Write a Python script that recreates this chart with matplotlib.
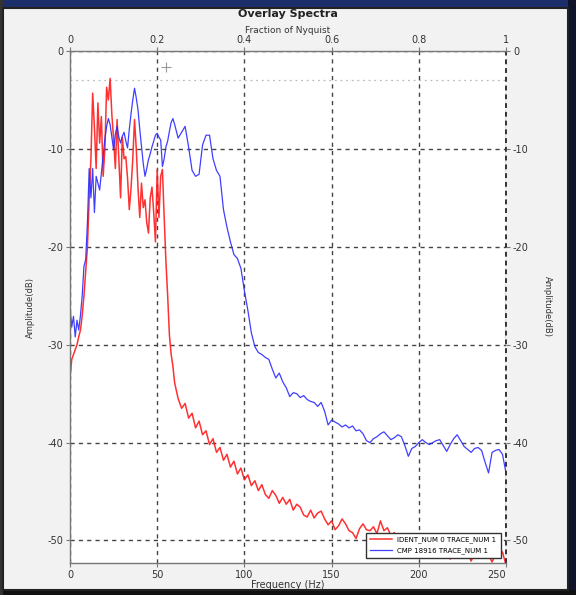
import numpy as np
import matplotlib
matplotlib.use("Agg")
import matplotlib.pyplot as plt
from matplotlib.patches import Rectangle

# frequency grid: 1 Hz steps up to 60 Hz, then 2 Hz steps to Nyquist
freq = np.concatenate([np.arange(0, 61, 1), np.arange(62, 251, 2)])
nyquist = 250

ident_db = [
    -33.4, -31.5, -31.0, -30.5, -30.0, -29.2, -28.5, -27.0, -25.0, -22.5,
    -20.0, -15.0, -11.0, -4.3, -7.8, -12.0, -5.3, -9.4, -6.7, -12.8,
    -10.0, -3.7, -5.0, -2.8, -6.5, -9.0, -12.0, -7.0, -11.0, -15.0,
    -8.8, -11.0, -10.8, -13.0, -16.2, -14.0, -11.0, -7.0, -10.0, -14.0,
    -17.0, -13.5, -16.0, -15.2, -17.5, -18.6, -15.0, -13.9, -16.5, -19.5,
    -12.1, -17.0, -12.8, -12.1, -17.0, -21.5, -25.0, -29.0, -31.0, -32.2,
    -33.9,
    # 62 .. 250 Hz
    -35.5, -36.5, -36.0, -37.5, -37.0, -38.5, -37.8, -39.2, -38.8, -40.2,
    -39.6, -41.0, -40.5, -41.8, -41.2, -42.5, -41.9, -43.2, -42.6, -43.8,
    -43.3, -44.4, -43.9, -44.9, -44.3, -45.3, -45.7, -44.9, -45.4, -46.2,
    -45.6, -46.3, -45.8, -46.9, -46.3, -46.6, -47.4, -47.6, -46.9, -47.7,
    -47.2, -47.0, -47.8, -48.4, -48.0, -48.9, -48.5, -47.8, -48.3, -49.0,
    -49.2, -49.8, -48.8, -48.3, -48.9, -49.0, -48.6, -49.3, -48.0, -49.0,
    -48.7, -49.5, -49.2, -50.0, -49.6, -50.2, -49.8, -50.6, -50.1, -50.4,
    -50.9, -50.3, -51.0, -50.6, -51.2, -50.7, -51.3, -51.0, -51.9, -51.1,
    -51.4, -50.9, -51.5, -51.2, -52.1, -51.3, -51.0, -51.6, -51.2, -51.5,
    -52.2, -51.4, -50.8, -51.2, -52.5,
]

cmp_db = [
    -26.2, -28.2, -27.1, -29.2, -27.5, -28.5, -27.0, -25.0, -22.0, -21.3,
    -17.5, -12.0, -15.0, -12.0, -16.5, -12.8, -13.5, -14.2, -12.5, -10.8,
    -9.0, -7.7, -6.9, -7.5, -8.8, -10.1, -8.5, -7.7, -8.8, -9.4,
    -8.7, -8.3, -9.2, -9.9, -8.0, -6.4, -5.0, -3.8, -4.8, -6.0,
    -8.0, -9.8, -11.5, -12.8, -12.0, -11.1, -10.5, -9.8, -9.2, -8.6,
    -8.4, -8.8, -9.1, -11.8, -11.0, -9.8, -9.2, -8.2, -7.3, -6.9,
    -7.5,
    # 62 .. 250 Hz
    -8.9, -8.3, -7.7, -9.8, -12.2, -12.8, -12.6, -9.6, -8.6, -8.6,
    -11.0, -12.2, -12.8, -16.2, -18.0, -19.5, -20.8, -21.2, -22.2, -24.5,
    -26.5, -28.8, -30.2, -30.8, -31.0, -31.3, -31.5, -32.5, -33.4, -32.9,
    -33.8, -34.4, -35.3, -34.9, -35.0, -35.4, -35.2, -35.6, -35.8, -35.9,
    -36.3, -35.9, -36.8, -38.2, -37.7, -37.9, -38.1, -38.4, -38.2, -38.5,
    -38.3, -38.8, -38.7, -39.1, -39.8, -40.0, -39.6, -39.4, -39.1, -38.9,
    -39.3, -39.7, -39.5, -39.2, -39.4, -40.3, -41.4, -40.6, -40.4, -40.0,
    -39.7, -40.0, -40.2, -40.0, -39.8, -39.7, -40.3, -40.9, -40.2, -39.6,
    -39.2, -39.8, -40.4, -40.7, -41.0, -40.6, -40.5, -40.8, -42.0, -43.1,
    -41.0, -40.8, -40.7, -41.2, -43.1,
]

labels = ["IDENT_NUM 0 TRACE_NUM 1", "CMP 18916 TRACE_NUM 1"]
db_ticks = [0, -10, -20, -30, -40, -50]
hz_ticks = [0, 50, 100, 150, 200, 250]
nyq_ticks = [0, 0.2, 0.4, 0.6, 0.8, 1]
nyq_labels = ["0", "0.2", "0.4", "0.6", "0.8", "1"]

W, H = 576, 595
fig = plt.figure(figsize=(W / 100, H / 100), dpi=100)
fig.patch.set_facecolor("#f2f2f2")

# window chrome around the panel
fig.patches.append(Rectangle((0, 1 - 8 / H), 1, 8 / H, transform=fig.transFigure,
                             facecolor="#1d2f6b", edgecolor="none", zorder=0))
fig.patches.append(Rectangle((568 / W, 0), 8 / W, 1, transform=fig.transFigure,
                             facecolor="#10142a", edgecolor="none", zorder=0))
fig.patches.append(Rectangle((0, 0), 1, 5 / H, transform=fig.transFigure,
                             facecolor="#111111", edgecolor="none", zorder=0))
fig.patches.append(Rectangle((0, 0), 3 / W, 1, transform=fig.transFigure,
                             facecolor="#333333", edgecolor="none", zorder=0))
fig.patches.append(Rectangle((3 / W, 5 / H), 565 / W, (H - 13) / H, transform=fig.transFigure,
                             facecolor="none", edgecolor="#222222", lw=1.5, zorder=1))

ax = fig.add_axes([70 / W, 1 - 563 / H, 436 / W, 512 / H])
ax.set_facecolor("white")

ax.plot(freq, ident_db, color="#ff1a1a", lw=1.1, alpha=0.9, label=labels[0])
ax.plot(freq, cmp_db, color="#2a2aff", lw=0.9, alpha=0.9, label=labels[1])

ax.set_xlim(0, nyquist)
ax.set_ylim(-52.3, 0)

ax.axhline(-3, color="#bbbbbb", lw=0.9, ls=(0, (1.5, 3)), zorder=1)
ax.plot([55], [-1.6], marker="+", ms=7, mew=0.8, color="#999999")

ax.set_xticks(hz_ticks)
ax.set_yticks(db_ticks)
ax.set_yticklabels([str(v) for v in db_ticks])
ax.grid(True, which="major", color="#444444", lw=1.0, ls=(0, (3, 3)))
# right border is drawn as the dashed 250 Hz grid line
ax.axvline(nyquist, color="#333333", lw=1.4, ls=(0, (2.5, 2)), clip_on=False)
ax.tick_params(direction="out", length=3, width=0.8, color="#777777",
               labelsize=7, labelcolor="#333333", pad=2)
xlabs = ax.get_xticklabels()
xlabs[-1].set_ha("right")

for side in ["left", "bottom", "top"]:
    ax.spines[side].set_color("#777777")
    ax.spines[side].set_linewidth(1.0)
ax.spines["right"].set_visible(False)

ax.set_xlabel("Frequency (Hz)", fontsize=7, color="#333333", labelpad=0)
ax.set_ylabel("Amplitude(dB)", fontsize=6, color="#333333", labelpad=9)

top = ax.twiny()
top.set_xlim(0, 1)
top.set_xticks(nyq_ticks)
top.set_xticklabels(nyq_labels)
top.tick_params(direction="out", length=3, width=0.8, color="#777777",
                labelsize=7, labelcolor="#333333", pad=1)
top.set_xlabel("Fraction of Nyquist", fontsize=6.5, color="#333333", labelpad=2)
for s in top.spines.values():
    s.set_visible(False)

right = ax.twinx()
right.set_ylim(ax.get_ylim())
right.set_yticks(db_ticks)
right.set_yticklabels([str(v) for v in db_ticks])
right.tick_params(direction="out", length=3, width=0.8, color="#777777",
                  labelsize=7, labelcolor="#333333", pad=2)
right.set_ylabel("Amplitude(dB)", fontsize=6, color="#333333", rotation=270, labelpad=17)
for s in right.spines.values():
    s.set_visible(False)

leg = ax.legend(loc="lower right", bbox_to_anchor=(0.988, 0.01), borderaxespad=0,
                fontsize=5, frameon=True, fancybox=False, handlelength=3.2,
                borderpad=0.6, labelspacing=0.5)
leg.get_frame().set_edgecolor("#333333")
leg.get_frame().set_linewidth(1.0)
leg.get_frame().set_alpha(1)

fig.text(0.5 * (70 + 506) / W, 1 - 14 / H, "Overlay Spectra", ha="center", va="center",
         fontsize=8, fontweight="bold", color="#222222")

fig.savefig("out.png", dpi=100, facecolor=fig.get_facecolor())
